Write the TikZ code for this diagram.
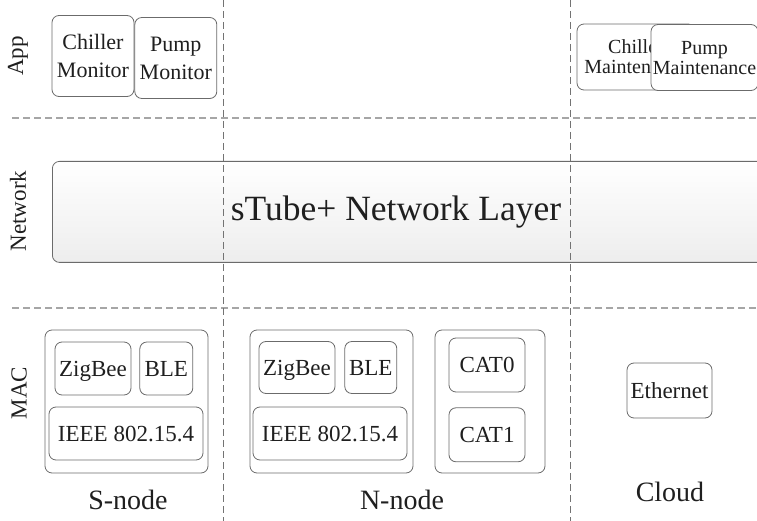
\documentclass[tikz,border=0pt]{standalone}
\usepackage{fontspec}
\setmainfont{Liberation Serif}
\usetikzlibrary{positioning}

\begin{document}
\begin{tikzpicture}[
    x=1pt, y=-1pt,
    node distance=8pt,
    box/.style={draw=black!58, line width=0.8pt, rounded corners=7pt, fill=white,
      inner sep=0pt, align=center, text depth=0pt, text=black!88, font=\fontsize{23}{26}\selectfont},
    appbox/.style={box, minimum width=82pt, minimum height=81pt, font=\fontsize{22}{28}\selectfont},
    mntbox/.style={box, minimum height=66pt, font=\fontsize{20}{20}\selectfont},
    group/.style={draw=black!58, line width=0.8pt, rounded corners=7pt, minimum height=143pt},
    layer/.style={rotate=90, text=black!88, font=\fontsize{23}{26}\selectfont},
    tag/.style={text=black!88, font=\fontsize{28}{30}\selectfont},
    hsep/.style={draw=black!35, line width=1.2pt, dash pattern=on 7pt off 4pt},
    vsep/.style={draw=black!55, line width=0.8pt, dash pattern=on 7pt off 4pt}
  ]
  \useasboundingbox (0,0) rectangle (757,521);

  % layer names
  \node[layer] (app) at (18,56) {App};
  \node[layer] (net) at (18,211) {Network};
  \node[layer] (mac) at (19,393) {MAC};

  % network layer
  \node[draw=black!58, line width=0.8pt, rounded corners=7pt, top color=white, bottom color=black!7,
    minimum width=720pt, minimum height=101pt, anchor=north west] (stube) at (52,161) {};
  \node[text=black!88, font=\fontsize{35.5}{38}\selectfont] (stubetxt) at (396,212) {sTube+ Network Layer};

  % app layer
  \node[appbox] (chilmon) at (93,56) {Chiller\\Monitor};
  \node[appbox, right=0pt of chilmon, yshift=-2pt] (pumpmon) {Pump\\Monitor};
  \node[mntbox, minimum width=118pt] (chilmnt) at (636,57) {Chiller\\Maintenance};
  \node[mntbox, minimum width=107pt] (pumpmnt) at (704.5,57.5) {Pump\\Maintenance};

  % S-node
  \node[group, minimum width=163pt] (sgrp) at (126.5,401.5) {};
  \node[box, minimum width=76pt, minimum height=53pt] (szig) at (93,368.5) {ZigBee};
  \node[box, minimum width=53pt, minimum height=53pt, right=of szig] (sble) {BLE};
  \node[box, minimum width=154pt, minimum height=53pt] (sieee) at (126,433.5) {IEEE 802.15.4};
  \node[tag] (snode) at (128,500) {S-node};

  % N-node
  \node[group, minimum width=163pt] (ngrp) at (331.5,401.5) {};
  \node[box, minimum width=76pt, minimum height=52pt] (nzig) at (297,367.5) {ZigBee};
  \node[box, minimum width=52pt, minimum height=52pt, right=9pt of nzig] (nble) {BLE};
  \node[box, minimum width=154pt, minimum height=53pt] (nieee) at (330,433.5) {IEEE 802.15.4};
  \node[group, minimum width=110pt] (cgrp) at (490,401.5) {};
  \node[box, minimum width=76pt, minimum height=54pt] (cat0) at (487,365) {CAT0};
  \node[box, minimum width=76pt, minimum height=54pt, below=15pt of cat0] (cat1) {CAT1};
  \node[tag] (nnode) at (402,500) {N-node};

  % cloud
  \node[box, minimum width=85pt, minimum height=55pt] (eth) at (669.5,390.5) {Ethernet};
  \node[tag] (cloud) at (670,492) {Cloud};

  % separators
  \draw[hsep] (12,118) -- (757,118);
  \draw[hsep] (12,308) -- (757,308);
  \draw[vsep] (223,0) -- (223,521);
  \draw[vsep] (570,0) -- (570,521);
\end{tikzpicture}
\end{document}
